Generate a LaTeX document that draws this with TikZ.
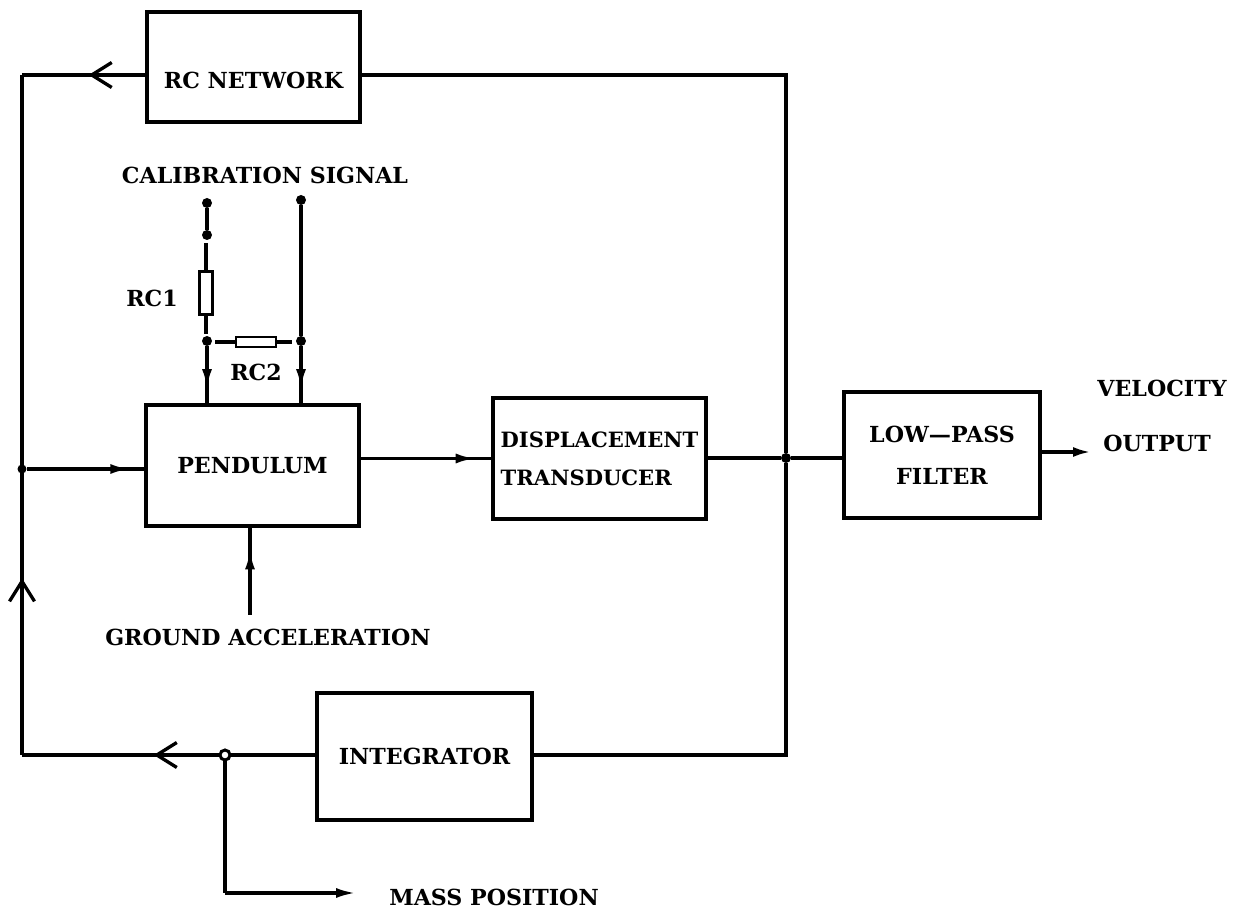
\documentclass[tikz,border=0pt]{standalone}
\usepackage{fontspec}
\setmainfont{DejaVu Serif}
\usetikzlibrary{arrows.meta,decorations.markings}
\tikzset{
    sigline/.style={line width=1.9pt},
    blockbox/.style={draw,line width=1.9pt,align=left,inner sep=0pt},
    termdot/.style={circle,fill,inner sep=0pt,minimum size=0.2cm},
    opendot/.style={circle,draw,fill=white,line width=1.7pt,inner sep=0pt,minimum size=0.2cm},
    resbox/.style={draw,line width=1.4pt,inner sep=0pt},
    txtlabel/.style={inner sep=0pt},
    midopen/.style={postaction={decorate},decoration={markings,mark=at position #1 with {\arrow[line width=1.9pt]{Straight Barb[length=0.4cm,width=0.5cm]}}}},
    midfill/.style={postaction={decorate},decoration={markings,mark=at position #1 with {\arrow{Latex[length=0.4cm,width=0.2cm]}}}}
}
\begin{document}
\begin{tikzpicture}[x=0.02cm,y=-0.02cm,font=\fontsize{12.6}{16}\selectfont\bfseries]
    \useasboundingbox (0,0) rectangle (1235,908);

    \node[blockbox,minimum width=4.26cm,minimum height=2.2cm,label={[yshift=-0.26cm]center:RC NETWORK}] (rcnet) at (253.5,67) {};
    \node[blockbox,minimum width=4.26cm,minimum height=2.42cm] (pendulum) at (252.5,465.5) {PENDULUM};
    \node[blockbox,minimum width=4.26cm,minimum height=2.42cm,font=\fontsize{12}{16}\selectfont\bfseries,execute at begin node={\baselineskip=0.76cm}] (dispbox) at (599.5,458.5) {DISPLACEMENT\\TRANSDUCER};
    \node[blockbox,align=center,minimum width=3.92cm,minimum height=2.52cm,execute at begin node={\baselineskip=0.84cm}] (filter) at (942,455) {LOW---PASS\\FILTER};
    \node[blockbox,minimum width=4.3cm,minimum height=2.54cm] (integrator) at (424.5,756.5) {INTEGRATOR};

    \node[txtlabel] (callabel) at (265,175) {CALIBRATION SIGNAL};
    \node[txtlabel] (rcone) at (152,298) {RC1};
    \node[txtlabel] (rctwo) at (256,372) {RC2};
    \node[txtlabel] (gndlabel) at (268,637) {GROUND ACCELERATION};
    \node[txtlabel] (masslabel) at (494,897) {MASS POSITION};
    \node[txtlabel] (vellabel) at (1162,388) {VELOCITY};
    \node[txtlabel] (outlabel) at (1157,443) {OUTPUT};

    \node[termdot] (topa) at (207,203) {};
    \node[termdot] (topb) at (207,235) {};
    \node[termdot] (topc) at (301,200) {};
    \node[termdot] (joina) at (207,341) {};
    \node[termdot] (joinb) at (301,341) {};
    \node[resbox,minimum width=0.26cm,minimum height=0.86cm] (resone) at (206,293) {};
    \node[resbox,minimum width=0.8cm,minimum height=0.2cm] (restwo) at (256,342) {};

    \node[termdot,minimum size=0.18cm] (leftjoin) at (22,469) {};
    \node[termdot] (rightjoin) at (786,458) {};
    \node[opendot] (massjoin) at (225,755) {};

    \coordinate (topleft) at (22,75);
    \coordinate (topright) at (786,75);
    \coordinate (botleft) at (22,755);
    \coordinate (botright) at (786,755);
    \coordinate (massbend) at (225,893);
    \coordinate (massend) at (356,893);
    \coordinate (gndend) at (250,615);
    \coordinate (outend) at (1091,452);

    \draw[sigline,midopen=.46] (rcnet.west |- topleft) -- (topleft);
    \draw[sigline] (rcnet.east |- topright) -- (topright) -- (rightjoin);
    \draw[sigline] (rightjoin) -- (botright) -- (integrator.east |- botright);
    \draw[sigline] (integrator.west |- massjoin) -- (massjoin);
    \draw[sigline,midopen=.33] (massjoin) -- (botleft);
    \draw[sigline,midopen=.26] (botleft) -- (topleft);
    \draw[sigline] (massjoin) -- (massbend);
    \draw[sigline,-{Latex[length=0.4cm,width=0.2cm]}] (massbend) -- (massend);

    \draw[sigline,midfill=.88] (leftjoin) -- (leftjoin -| pendulum.west);
    \draw[sigline,midfill=.88] (pendulum.east |- dispbox.west) -- (dispbox.west);
    \draw[sigline] (dispbox.east |- rightjoin) -- (rightjoin);
    \draw[sigline] (rightjoin) -- (rightjoin -| filter.west);
    \draw[sigline,-{Latex[length=0.36cm,width=0.2cm]}] (filter.east |- outend) -- (outend);
    \draw[sigline,midfill=.75] (gndend) -- (gndend |- pendulum.south);

    \draw[sigline] (topa) -- (topb);
    \draw[sigline] (resone.north) -- ++(0,-27);
    \draw[sigline] (resone.south) -- ++(0,18);
    \draw[sigline,midfill=.75] (joina) -- (joina |- pendulum.north);
    \draw[sigline] (topc) -- (joinb);
    \draw[sigline,midfill=.75] (joinb) -- (joinb |- pendulum.north);
    \draw[sigline] (restwo.west) -- ++(-20,0);
    \draw[sigline] (restwo.east) -- ++(15,0);
\end{tikzpicture}
\end{document}
